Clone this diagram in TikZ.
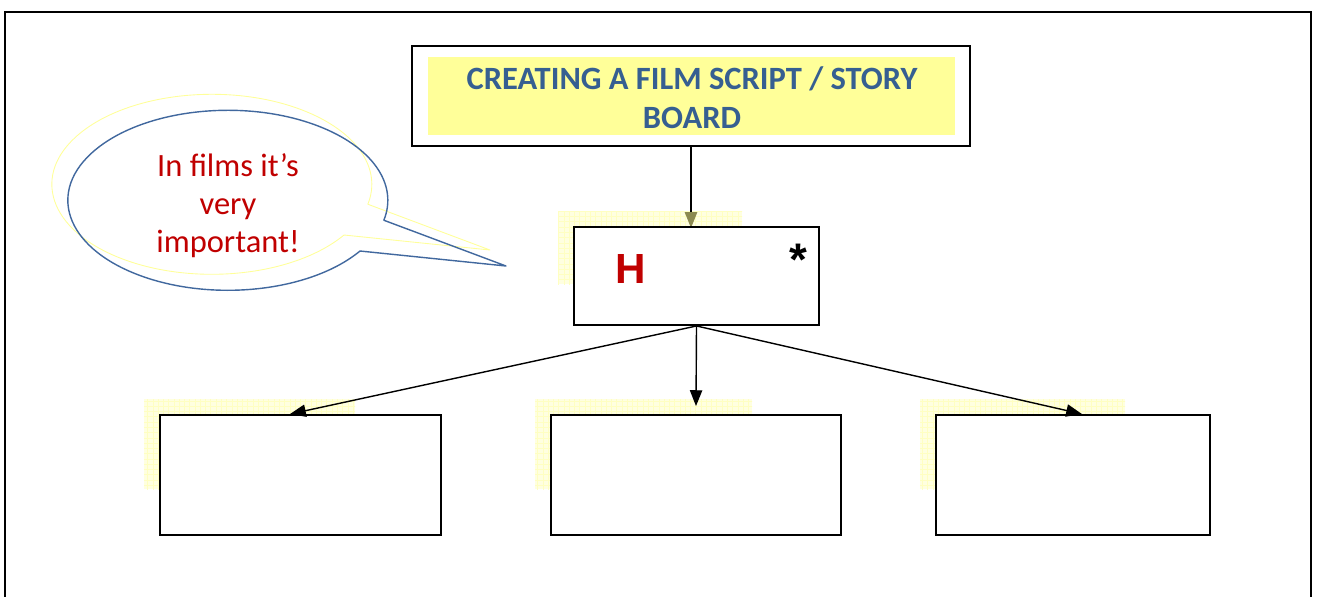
\documentclass[tikz,border=0pt]{standalone}
\usepackage{fontspec}
\setmainfont{Carlito}
\newfontfamily\arialfont{Liberation Sans}
\usetikzlibrary{arrows.meta,patterns}
\definecolor{titleblue}{HTML}{365F91}
\definecolor{darkred}{HTML}{C00000}
\definecolor{padyellow}{HTML}{FFFF99}
\definecolor{shadowyellow}{HTML}{FFFFCC}
\definecolor{bubbleblue}{HTML}{41689E}
\definecolor{tipolive}{HTML}{8C8A50}
\tikzset{
frame/.style={draw, line width=1.2pt},
panel/.style={draw, line width=1.1pt, fill=white, rectangle, inner sep=0pt},
padshadow/.style={fill=shadowyellow, fill opacity=0.6, draw=none,
	postaction={pattern=grid, pattern color=padyellow!60}},
link/.style={line width=0.8pt, -{Triangle[length=9pt,width=7pt]}},
bubbleline/.style={draw=bubbleblue, line width=0.8pt, line join=round},
bubbleglow/.style={draw=padyellow, line width=0.5pt, line join=round}
}
\begin{document}
\begin{tikzpicture}[x=0.02cm, y=-0.02cm]
	\useasboundingbox (0,0) rectangle (1318,596);
	\draw[frame] (5,600) -- (5,12) -- (1311,12) -- (1311,600);
	\draw[bubbleglow, shift={(-16,-16)}] (360,251) arc[start angle=34.3, end angle=372.8, x radius=160, y radius=90] -- (506,266) -- cycle;
	\draw[bubbleline] (360,251) arc[start angle=34.3, end angle=372.8, x radius=160, y radius=90] -- (506,266) -- cycle;
	\node[text=darkred, align=center, font=\fontsize{18.5}{21.8}\selectfont] (note) at (228,205.5) {In films it’s\\very\\important!};
	\node[panel, minimum width=11.16cm, minimum height=2cm] (title) at (691,96) {};
	\node[fill=padyellow, inner sep=0pt, minimum width=10.54cm, minimum height=1.56cm] (titlepad) at (691.5,96) {};
	\node[text=titleblue, align=center, font=\bfseries\fontsize{18.5}{22}\selectfont] (titletext) at (692,97.5) {CREATING A FILM SCRIPT / STORY\\BOARD};
	\path[padshadow] (558,211) rectangle (742,284);
	\draw[link, -{Triangle[length=9pt,width=7pt,color=tipolive]}] (title.south) -- (title.south |- 0,228);
	\node[panel, minimum width=4.9cm, minimum height=1.96cm] (hbox) at (696.5,276) {};
	\node[anchor=base, text=darkred, font=\arialfont\bfseries\fontsize{24}{28}\selectfont] (hmark) at (631,283) {H};
	\node[anchor=base, font=\arialfont\bfseries\fontsize{26}{30}\selectfont] (star) at (798,275) {*};
	\path[padshadow] (144,399) rectangle (355,489);
	\path[padshadow] (535,399) rectangle (752,489);
	\path[padshadow] (920,399) rectangle (1125,489);
	\node[panel, minimum width=5.62cm, minimum height=2.4cm] (lbox) at (300.5,475) {};
	\node[panel, minimum width=5.8cm, minimum height=2.4cm] (mbox) at (696,475) {};
	\node[panel, minimum width=5.48cm, minimum height=2.4cm] (rbox) at (1073,475) {};
	\draw[link] (hbox.south) -- ([xshift=-0.21cm]lbox.north);
	\draw[link] (hbox.south) -- ([yshift=0.16cm]mbox.north);
	\draw[link] (hbox.south) -- ([xshift=0.18cm]rbox.north);
\end{tikzpicture}
\end{document}
